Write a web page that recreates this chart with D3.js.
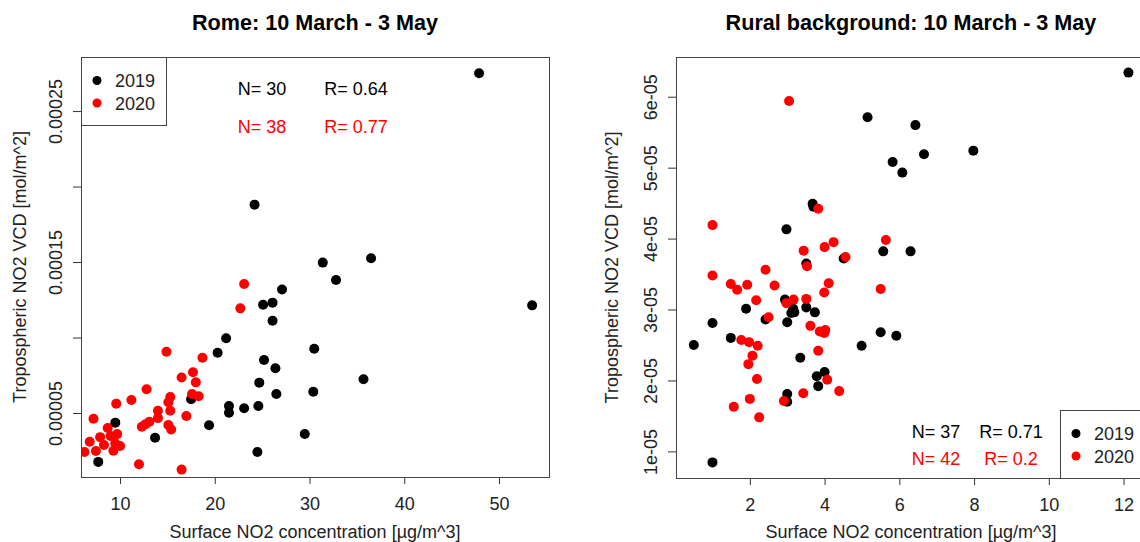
<html>
<head>
<script src="https://d3js.org/d3.v7.min.js"></script>
<style>
  body { margin: 0; background: #fff; }
  svg text { font-family: "Liberation Sans", Arial, sans-serif; }
</style>
</head>
<body>
<svg></svg>
<script>
// Rome station, 2019 (black) and 2020 (red): surface NO2 vs tropospheric NO2 VCD
var romeX2019 = [47.9, 24.2, 31.4, 36.5, 32.8, 27.1, 53.5, 25.1, 26.1, 26.1, 21.2, 20.3, 30.5, 25.2, 26.4,
                 35.7, 24.7, 30.4, 26.5, 17.5, 21.5, 21.5, 23.1, 24.6, 9.5, 19.4, 29.5, 13.7, 24.5, 7.7];
var romeY2019 = [2.75e-4, 1.88e-4, 1.496e-4, 1.525e-4, 1.381e-4, 1.318e-4, 1.213e-4, 1.217e-4, 1.231e-4, 1.111e-4,
                 9.95e-5, 8.99e-5, 9.26e-5, 8.51e-5, 7.96e-5, 7.23e-5, 7.01e-5, 6.41e-5, 6.26e-5, 5.91e-5,
                 5.46e-5, 5.02e-5, 5.31e-5, 5.46e-5, 4.36e-5, 4.19e-5, 3.61e-5, 3.36e-5, 2.42e-5, 1.76e-5];
var romeX2020 = [23.1, 22.7, 14.9, 18.7, 17.7, 16.5, 18.0, 12.8, 11.2, 9.6, 15.3, 15.1, 17.6, 18.3, 14.0,
                 15.3, 7.2, 17.0, 14.0, 13.1, 12.7, 12.3, 15.1, 15.4, 8.7, 9.7, 9.0, 7.9, 6.8, 8.3,
                 9.5, 10.0, 9.3, 6.25, 7.45, 12.0, 16.5];
var romeY2020 = [1.354e-4, 1.193e-4, 9.06e-5, 8.66e-5, 7.70e-5, 7.35e-5, 7.03e-5, 6.57e-5, 5.86e-5, 5.62e-5,
                 6.06e-5, 5.71e-5, 6.26e-5, 6.11e-5, 5.15e-5, 5.15e-5, 4.62e-5, 4.80e-5, 4.66e-5, 4.42e-5,
                 4.26e-5, 4.09e-5, 4.21e-5, 3.91e-5, 4.01e-5, 3.60e-5, 3.48e-5, 3.40e-5, 3.10e-5, 2.88e-5,
                 2.99e-5, 2.81e-5, 2.50e-5, 2.42e-5, 2.48e-5, 1.61e-5, 1.25e-5];

// Rural background
var ruralX2019 = [0.50, 1.00, 1.00, 1.49, 1.90, 2.42, 2.98, 2.94, 3.00, 3.16, 3.19, 3.11, 3.51, 3.74, 3.51,
                  3.68, 3.70, 3.35, 3.79, 4.00, 3.83, 3.00, 3.00, 4.51, 4.99, 12.13, 5.15, 6.43, 6.66, 7.98,
                  5.82, 6.08, 5.57, 6.30, 5.50, 5.92];
var ruralY2019 = [2.50e-5, 2.81e-5, 8.45e-6, 2.60e-5, 3.01e-5, 2.86e-5, 4.13e-5, 3.14e-5, 2.82e-5, 3.01e-5,
                  2.96e-5, 2.95e-5, 3.03e-5, 2.96e-5, 3.65e-5, 4.49e-5, 4.45e-5, 2.32e-5, 2.06e-5, 2.12e-5,
                  1.92e-5, 1.81e-5, 1.70e-5, 3.72e-5, 2.49e-5, 6.34e-5, 5.71e-5, 5.60e-5, 5.19e-5, 5.24e-5,
                  5.08e-5, 4.93e-5, 3.82e-5, 3.82e-5, 2.68e-5, 2.63e-5];
var ruralX2020 = [1.00, 1.00, 1.49, 1.66, 1.93, 2.42, 2.66, 2.17, 2.50, 1.77, 1.98, 2.21, 2.07, 1.96, 2.19,
                  2.00, 1.57, 2.25, 3.05, 2.91, 2.98, 3.17, 3.44, 3.53, 3.51, 3.62, 3.83, 4.00, 4.24, 4.56,
                  4.11, 3.99, 3.87, 3.99, 4.02, 3.83, 4.07, 3.43, 4.39, 5.64, 5.50];
var ruralY2020 = [4.19e-5, 3.48e-5, 3.36e-5, 3.28e-5, 3.35e-5, 3.56e-5, 3.34e-5, 3.13e-5, 2.89e-5, 2.57e-5,
                  2.54e-5, 2.49e-5, 2.35e-5, 2.23e-5, 2.02e-5, 1.74e-5, 1.63e-5, 1.48e-5, 5.94e-5, 1.71e-5,
                  3.09e-5, 3.14e-5, 3.83e-5, 3.61e-5, 3.15e-5, 2.77e-5, 4.42e-5, 3.88e-5, 3.95e-5, 3.74e-5,
                  3.37e-5, 3.24e-5, 2.69e-5, 2.67e-5, 2.71e-5, 2.42e-5, 2.01e-5, 1.82e-5, 1.85e-5, 3.98e-5,
                  3.29e-5];

var romeXTicks = [10, 20, 30, 40, 50];
var romeYTicks = [5e-5, 1e-4, 1.5e-4, 2e-4, 2.5e-4];
var romeYLabels = ["0.00005", "", "0.00015", "", "0.00025"];
var ruralXTicks = [2, 4, 6, 8, 10, 12];
var ruralYTicks = [1e-5, 2e-5, 3e-5, 4e-5, 5e-5, 6e-5];
var ruralYLabels = ["1e-05", "2e-05", "3e-05", "4e-05", "5e-05", "6e-05"];
var years = ["2019", "2020"];
var colors = ["black", "red"];

var width = 1140, height = 542;
var svg = d3.select("svg").attr("width", width).attr("height", height);

function panel(o) {
  var x = d3.scaleLinear().domain(o.xdom).range([o.left, o.right]);
  var y = d3.scaleLinear().domain(o.ydom).range([o.bottom, o.top]);
  var g = svg.append("g");

  g.append("clipPath").attr("id", o.id)
    .append("rect").attr("x", o.left).attr("y", o.top)
    .attr("width", o.right - o.left).attr("height", o.bottom - o.top);

  var ax = g.append("g").attr("transform", "translate(0," + o.bottom + ")")
    .call(d3.axisBottom(x).tickValues(o.xticks).tickSize(7).tickFormat(d3.format("d")));
  ax.select(".domain").remove();
  ax.selectAll("line").attr("stroke", "#333");
  ax.selectAll("text").attr("y", 33).attr("dy", null)
    .attr("font-size", 18).attr("fill", "#222");

  var ay = g.append("g").attr("transform", "translate(" + o.left + ",0)")
    .call(d3.axisLeft(y).tickValues(o.yticks).tickSize(8)
      .tickFormat(function(d, i) { return o.ylabels[i]; }));
  ay.select(".domain").remove();
  ay.selectAll("line").attr("stroke", "#333");
  ay.selectAll("text").attr("x", null).attr("dy", null)
    .attr("transform", "rotate(-90)").attr("x", 0).attr("y", -o.ytickOff)
    .attr("text-anchor", "middle").attr("font-size", 18).attr("fill", "#222");

  var pts = g.append("g").attr("clip-path", "url(#" + o.id + ")");
  o.series.forEach(function(s, k) {
    pts.selectAll(null).data(s[0]).enter().append("circle")
      .attr("cx", function(d) { return x(d); })
      .attr("cy", function(d, i) { return y(s[1][i]); })
      .attr("r", 5).attr("fill", colors[k]);
  });

  g.append("rect").attr("x", o.left + 0.5).attr("y", o.top + 0.5)
    .attr("width", o.right - o.left).attr("height", o.bottom - o.top)
    .attr("fill", "none").attr("stroke", "#444");

  g.append("text").attr("x", o.titleX).attr("y", 30).attr("text-anchor", "middle")
    .attr("font-size", 21.6).attr("font-weight", "bold").text(o.title);
  g.append("text").attr("x", o.xlabX).attr("y", 538).attr("text-anchor", "middle")
    .attr("font-size", 18).attr("fill", "#222").text("Surface NO2 concentration [\u00b5g/m^3]");
  g.append("text").attr("transform", "translate(" + o.ylabX + "," + ((o.top + o.bottom) / 2) + ") rotate(-90)")
    .attr("text-anchor", "middle").attr("font-size", 18).attr("fill", "#222")
    .text("Tropospheric NO2 VCD [mol/m^2]");

  // N and R annotations
  o.stats.forEach(function(s, k) {
    g.append("text").attr("x", o.nX).attr("y", o.statY[k]).attr("text-anchor", "middle")
      .attr("font-size", 18).attr("fill", colors[k]).text("N= " + s[0]);
    g.append("text").attr("x", o.rX).attr("y", o.statY[k]).attr("text-anchor", "middle")
      .attr("font-size", 18).attr("fill", colors[k]).text("R= " + s[1]);
  });

  // legend
  var L = o.legend;
  g.append("rect").attr("x", L.x + 0.5).attr("y", L.y + 0.5).attr("width", L.w).attr("height", L.h)
    .attr("fill", "white").attr("stroke", "#444");
  years.forEach(function(yr, k) {
    g.append("circle").attr("cx", L.x + 16).attr("cy", L.y + 23.5 + k * 22.5).attr("r", 4.5).attr("fill", colors[k]);
    g.append("text").attr("x", L.x + 34).attr("y", L.y + 30 + k * 22.5)
      .attr("font-size", 18).attr("fill", "#222").text(yr);
  });
}

panel({
  id: "clipRome", left: 81, right: 549, top: 57, bottom: 477,
  xdom: [5.88, 55.28], ydom: [7.6e-6, 2.858e-4],
  xticks: romeXTicks, yticks: romeYTicks, ylabels: romeYLabels, ytickOff: 19,
  series: [[romeX2019, romeY2019], [romeX2020, romeY2020]],
  title: "Rome: 10 March - 3 May", titleX: 315, xlabX: 315, ylabX: 26,
  stats: [[30, "0.64"], [38, "0.77"]], nX: 262, rX: 356, statY: [95, 133],
  legend: { x: 81, y: 57, w: 85, h: 68 }
});

panel({
  id: "clipRural", left: 676, right: 1146, top: 57, bottom: 478,
  xdom: [0.024, 12.6], ydom: [6.25e-6, 6.56e-5],
  xticks: ruralXTicks, yticks: ruralYTicks, ylabels: ruralYLabels, ytickOff: 19,
  series: [[ruralX2019, ruralY2019], [ruralX2020, ruralY2020]],
  title: "Rural background: 10 March - 3 May", titleX: 911, xlabX: 911, ylabX: 618,
  stats: [[37, "0.71"], [42, "0.2"]], nX: 936, rX: 1011, statY: [438, 465],
  legend: { x: 1060, y: 410, w: 90, h: 68 }
});
</script>
</body>
</html>
